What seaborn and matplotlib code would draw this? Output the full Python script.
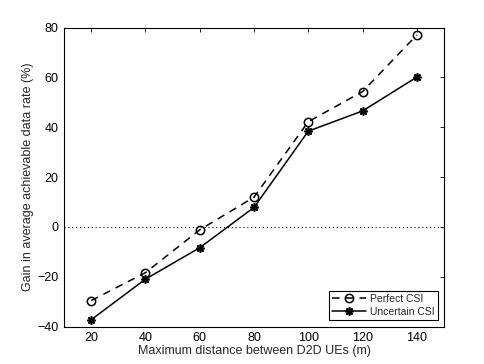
import matplotlib
matplotlib.use("Agg")
import matplotlib.pyplot as plt
import seaborn as sns
import pandas as pd

distances = [20, 40, 60, 80, 100, 120, 140]
perfect_csi = [-29.6, -18.4, -1.2, 11.9, 42.2, 54.3, 77.0]
uncertain_csi = [-37.3, -21.0, -8.4, 7.8, 38.4, 46.5, 60.1]
x_ticks = [20, 40, 60, 80, 100, 120, 140]
y_ticks = [-40, -20, 0, 20, 40, 60, 80]

sns.set_theme(style="white")
plt.rcParams['font.family'] = ['Liberation Sans', 'DejaVu Sans']

df = pd.DataFrame({
    "x": distances * 2,
    "y": perfect_csi + uncertain_csi,
    "s": ["Perfect CSI"] * len(distances) + ["Uncertain CSI"] * len(distances),
})

fig = plt.figure(figsize=(4.85, 3.64), dpi=100)
ax = fig.add_axes([64/485, 1 - 326.5/364, (444-64)/485, (326.5-27.5)/364])

ax.axhline(0, color="black", linestyle=(0, (1, 2.5)), linewidth=0.8, zorder=1)

sns.lineplot(data=df[df.s == "Perfect CSI"], x="x", y="y", ax=ax, color="black",
             linestyle=(0, (5, 4)), linewidth=1.1, marker="o", markersize=6,
             markerfacecolor="none", markeredgecolor="black", markeredgewidth=1.1,
             label="Perfect CSI", zorder=3)
sns.lineplot(data=df[df.s == "Uncertain CSI"], x="x", y="y", ax=ax, color="black",
             linestyle="-", linewidth=1.1, marker=(8, 2, 0), markersize=6,
             markeredgecolor="black", markeredgewidth=1.2,
             label="Uncertain CSI", zorder=3)

ax.set_xlim(10, 150)
ax.set_ylim(-40, 80)
ax.set_xticks(x_ticks)
ax.set_yticks(y_ticks)
ax.set_yticklabels([str(v).replace("-", "\u2212") for v in y_ticks])
ax.tick_params(direction="in", length=3, width=0.6, top=True, right=True,
               labelsize=9, colors="black", pad=4)
for sp in ax.spines.values():
    sp.set_color("black")
    sp.set_linewidth(0.8)
ax.set_xlabel("Maximum distance between D2D UEs (m)", fontsize=9, labelpad=1)
ax.set_ylabel("Gain in average achievable data rate (%)", fontsize=9, labelpad=2)

leg = ax.legend(loc="lower right", fontsize=7.5, frameon=True, fancybox=False,
                edgecolor="black", framealpha=1, borderaxespad=0.6,
                handlelength=3.2, handletextpad=0.4, borderpad=0.3, labelspacing=0.3)
leg.get_frame().set_linewidth(0.8)

fig.savefig("out.png", dpi=100)
